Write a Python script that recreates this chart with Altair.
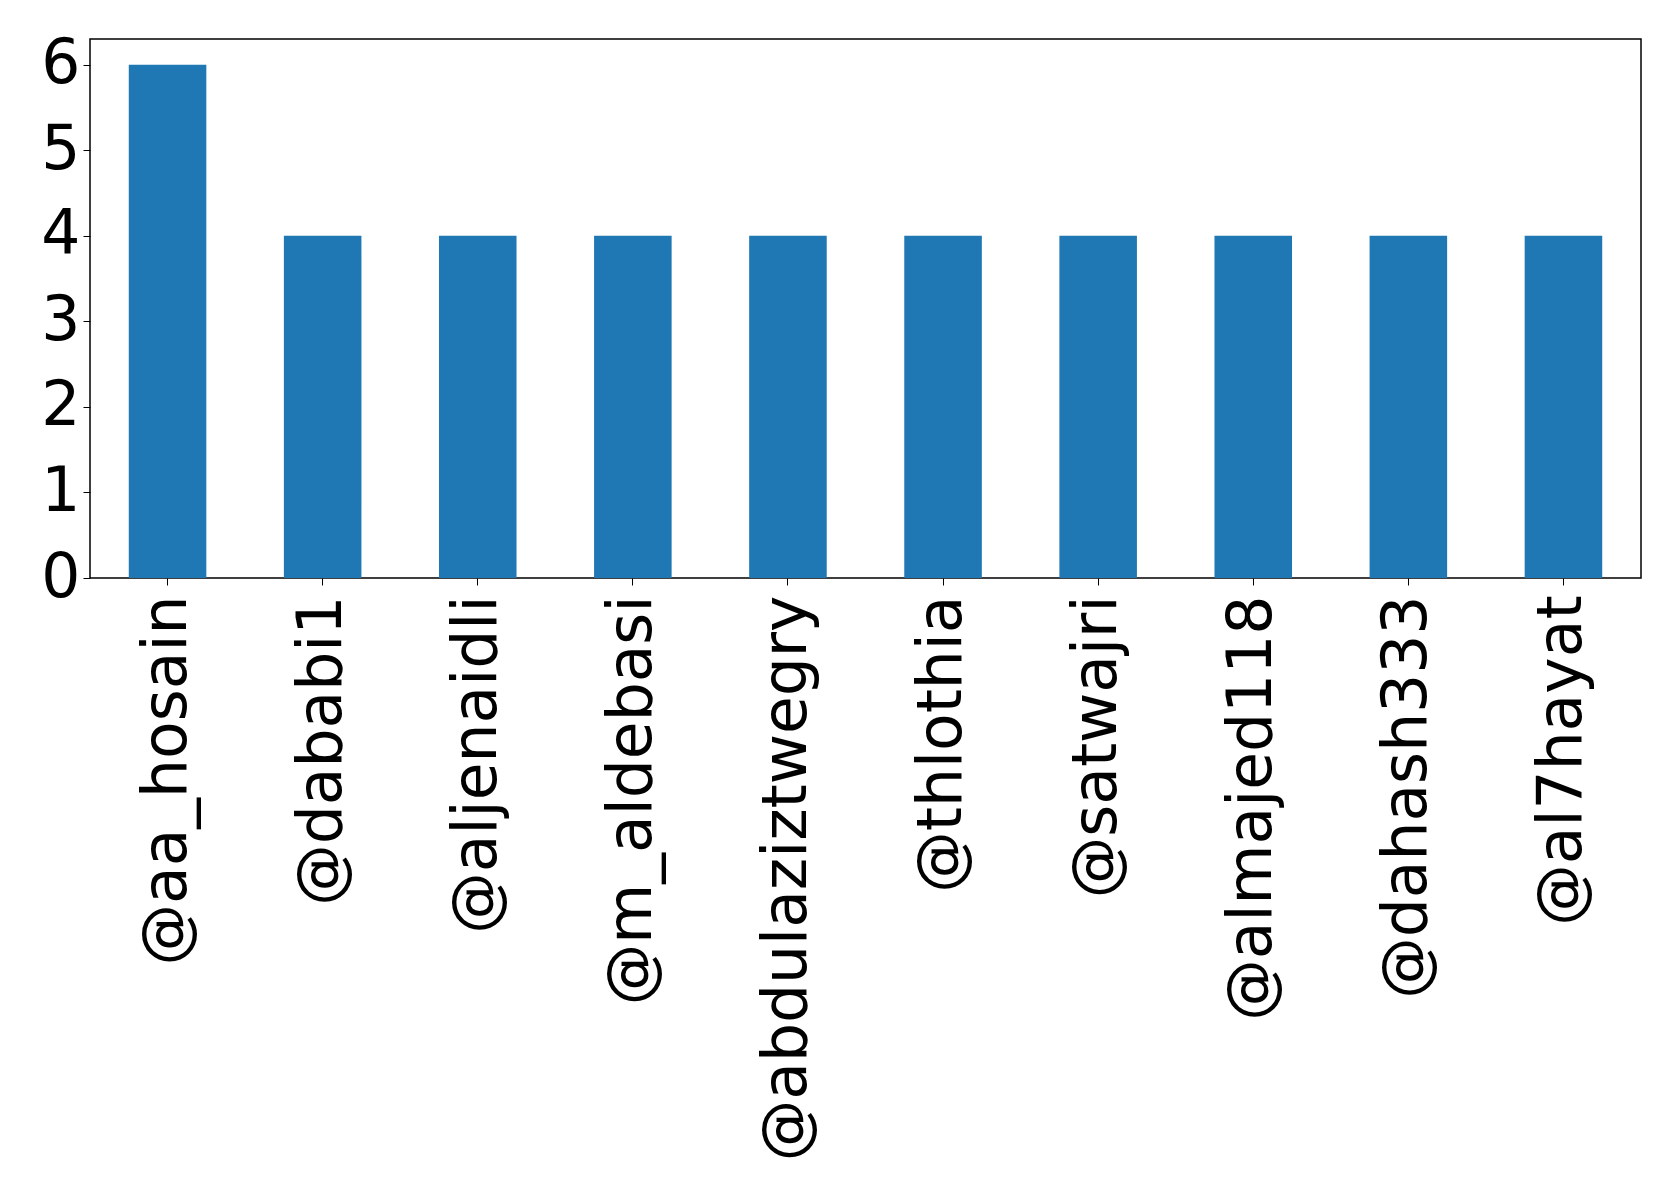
import altair as alt
import pandas as pd

users = ["@aa_hosain", "@dababi1", "@aljenaidli", "@m_aldebasi", "@abdulaziztwegry",
         "@thlothia", "@satwajri", "@almajed118", "@dahash333", "@al7hayat"]
counts = [6, 4, 4, 4, 4, 4, 4, 4, 4, 4]

df = pd.DataFrame({"user": users, "count": counts})

FONT = "DejaVu Sans"

chart = alt.Chart(df).mark_bar(color="#1f77b4").encode(
    x=alt.X("user:N", sort=users, title=None,
            scale=alt.Scale(paddingInner=0.5, paddingOuter=0.25),
            axis=alt.Axis(labelAngle=-90, labelFont=FONT, labelFontSize=61.5,
                          labelColor="black", tickColor="black", tickSize=7,
                          labelPadding=10, domain=False, labelLimit=0)),
    y=alt.Y("count:Q", title=None,
            scale=alt.Scale(domain=[0, 6.3], nice=False),
            axis=alt.Axis(values=[0, 1, 2, 3, 4, 5, 6], labelFont=FONT, labelFontSize=61.5,
                          labelColor="black", tickColor="black", tickSize=7,
                          labelPadding=3, domain=False, grid=False, format="d")),
).properties(
    width=1551, height=539,
    autosize=alt.AutoSizeParams(type="none"),
    padding={"left": 82, "top": 31, "right": 30, "bottom": 620},
).configure(background="white").configure_view(stroke="black", strokeWidth=1.5)

chart.save("out.html", embed_options={"renderer": "svg", "actions": False})
